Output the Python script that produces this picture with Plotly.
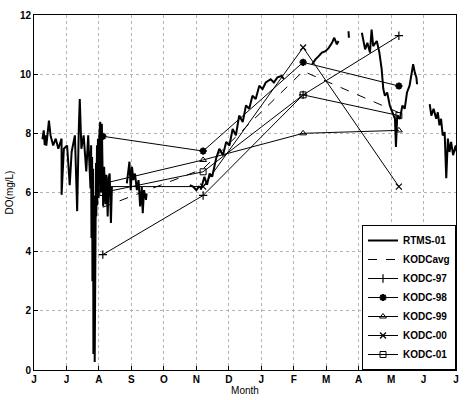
import plotly.graph_objects as go

# ---- data ----
month_ticks = list(range(14))
month_labels = ["J", "J", "A", "S", "O", "N", "D", "J", "F", "M", "A", "M", "J", "J"]

# KODC sampling months (months since 1 June)
kodc_months = [2.12, 5.21, 8.29, 11.24]
kodc_avg = [5.5, 6.8, 10.1, 8.7]
kodc_97 = [3.9, 5.9, 9.3, 11.3]
kodc_98 = [7.9, 7.4, 10.4, 9.6]
kodc_99 = [6.3, 7.1, 8.0, 8.1]
kodc_00 = [6.2, 6.2, 10.9, 6.2]
kodc_01 = [6.0, 6.7, 9.3, 8.6]

# RTMS-01 continuous record (None = data gap)
rtms_month = [
    0.26, 0.30, 0.33, 0.36, 0.38, 0.46, 0.51, 0.59, 0.67, 0.75, 0.85, 0.85, 0.92, 1.02, 1.10,
    1.16, 1.26, 1.33, 1.38, 1.41, 1.46, 1.53, 1.61, 1.67, 1.74, 1.76, 1.77, 1.79, 1.80, 1.82,
    1.83, 1.85, 1.86, 1.87, 1.89, 1.91, 1.92, 1.94, 1.95, 1.97, 1.99, 2.01, 2.04, 2.06, 2.09,
    2.11, 2.13, 2.16, 2.20, 2.23, 2.27, 2.30, 2.33, 2.37, 2.40, None,
    2.86, 2.91, 2.94, 2.98, 3.02, 3.06, 3.11, 3.17, 3.22, 3.27, 3.32, 3.35, 3.39, 3.45, 3.47, None,
    4.80, 4.90, 5.00, 5.08, 5.15, 5.20, 5.25, 5.33, 5.41, 5.49, 5.56, 5.61, 5.71, 5.82, 5.92,
    6.02, 6.12, 6.22, 6.32, 6.43, 6.53, 6.63, 6.73, 6.83, 6.94, 7.04, 7.14, 7.29, 7.39, 7.50,
    7.63, 7.70, None,
    8.57, 8.67, 8.77, 8.87, 8.98, 9.08, 9.18, 9.25, 9.33, 9.38, None,
    9.69, 9.70, None,
    10.10, 10.15, 10.20, 10.27, 10.35, 10.40, 10.45, 10.56, 10.64, 10.71, 10.76, 10.81, 10.88,
    10.96, 11.05, 11.12, 11.15, 11.19, 11.27, 11.35, 11.42, 11.49, 11.57, 11.63, 11.68, 11.73,
    11.78, 11.80, None,
    12.19, 12.24, 12.31, 12.39, 12.44, 12.49, 12.54, 12.59, 12.65, 12.70, 12.75, 12.80, 12.85,
    12.91, 12.99, 13.06, 13.10,
]
rtms_do = [
    7.8, 8.1, 7.6, 7.93, 7.58, 8.43, 7.93, 7.59, 7.82, 7.48, 7.82, 5.92, 7.48, 7.59, 6.25,
    7.38, 7.93, 5.37, 8.15, 9.16, 7.48, 7.93, 6.71, 7.93, 6.14, 7.6, 4.46, 7.2, 3.0, 6.8,
    0.54, 5.9, 3.36, 0.27, 4.8, 7.0, 5.2, 7.6, 5.57, 7.82, 5.81, 7.9, 8.39, 6.0, 8.32,
    5.7, 5.53, 6.87, 5.6, 6.6, 5.19, 6.5, 6.64, 4.97, 6.2, None,
    6.31, 6.76, 7.04, 6.08, 6.87, 6.42, 6.64, 6.08, 6.42, 5.53, 6.2, 5.30, 6.08, 5.75, 5.97, None,
    6.25, 6.20, 6.08, 6.20, 6.14, 6.31, 6.53, 6.26, 6.64, 6.54, 6.92, 7.15, 7.48, 7.26, 7.71,
    7.59, 8.15, 7.93, 8.60, 8.38, 8.94, 8.83, 9.27, 9.16, 9.61, 9.50, 9.72, 9.83, 9.72, 9.89,
    9.94, 9.83, None,
    10.34, 10.50, 10.61, 10.73, 10.78, 10.89, 11.06, 11.23, 11.01, 11.12, None,
    11.45, 11.23, None,
    11.40, 11.17, 10.84, 11.06, 10.73, 11.51, 10.95, 11.12, 10.73, 10.17, 9.50, 9.27, 9.38,
    8.94, 8.71, 8.49, 7.54, 8.60, 8.49, 8.94, 8.83, 9.38, 9.61, 10.06, 10.34, 10.06,
    9.89, 9.66, None,
    8.99, 8.60, 8.83, 8.49, 8.71, 8.27, 8.49, 7.93, 8.04, 6.48, 7.82, 7.37, 7.71,
    7.26, 7.59, 7.15, 5.81,
]

FONT = "Liberation Sans, Arial, sans-serif"
fig = go.Figure()

fig.add_trace(go.Scatter(x=rtms_month, y=rtms_do, mode="lines", name="RTMS-01",
                         line=dict(color="black", width=2), connectgaps=False))
fig.add_trace(go.Scatter(x=kodc_months, y=kodc_avg, mode="lines", name="KODCavg",
                         line=dict(color="black", width=1, dash="dash")))
fig.add_trace(go.Scatter(x=kodc_months, y=kodc_97, mode="lines+markers", name="KODC-97",
                         line=dict(color="black", width=1),
                         marker=dict(symbol="cross-thin-open", size=6, color="black",
                                     line=dict(width=1.2, color="black"))))
fig.add_trace(go.Scatter(x=kodc_months, y=kodc_98, mode="lines+markers", name="KODC-98",
                         line=dict(color="black", width=1),
                         marker=dict(symbol="asterisk-open", size=6, color="black",
                                     line=dict(width=2, color="black"))))
fig.add_trace(go.Scatter(x=kodc_months, y=kodc_99, mode="lines+markers", name="KODC-99",
                         line=dict(color="black", width=1),
                         marker=dict(symbol="triangle-up-open", size=6, color="black",
                                     line=dict(width=1, color="black"))))
fig.add_trace(go.Scatter(x=kodc_months, y=kodc_00, mode="lines+markers", name="KODC-00",
                         line=dict(color="black", width=1),
                         marker=dict(symbol="x-thin-open", size=6, color="black",
                                     line=dict(width=1.2, color="black"))))
fig.add_trace(go.Scatter(x=kodc_months, y=kodc_01, mode="lines+markers", name="KODC-01",
                         line=dict(color="black", width=1),
                         marker=dict(symbol="square-open", size=6, color="black",
                                     line=dict(width=1, color="black"))))

fig.update_layout(
    width=465, height=400,
    margin=dict(l=34, r=6, t=15, b=27),
    paper_bgcolor="white", plot_bgcolor="white",
    font=dict(family=FONT, size=10, color="black"),
    showlegend=True,
    legend=dict(x=1, y=0, xanchor="right", yanchor="bottom",
                bgcolor="white", bordercolor="black", borderwidth=1,
                font=dict(family=FONT, size=10, color="black", weight="bold"),
                tracegroupgap=0, itemwidth=30),
)
fig.update_xaxes(
    range=[0, 13], tickmode="array", tickvals=month_ticks, ticktext=month_labels,
    ticks="inside", ticklen=4, tickcolor="black", showline=True, linecolor="black",
    linewidth=1, mirror=True, showgrid=True, gridcolor="#b4b4b4", griddash="dot",
    gridwidth=1, zeroline=False,
    tickfont=dict(family=FONT, size=10, color="black", weight="bold"),
    title=dict(text="Month", standoff=2, font=dict(family=FONT, size=10, color="black")),
)
fig.update_yaxes(
    range=[0, 12], tickmode="array", tickvals=[0, 2, 4, 6, 8, 10, 12],
    ticks="inside", ticklen=4, tickcolor="black", showline=True, linecolor="black",
    linewidth=1, mirror=True, showgrid=True, gridcolor="#b4b4b4", griddash="dot",
    gridwidth=1, zeroline=False,
    tickfont=dict(family=FONT, size=10, color="black", weight="bold"),
    title=dict(text="DO(mg/L)", standoff=4, font=dict(family=FONT, size=10, color="black")),
)

fig.write_html("out.html")
